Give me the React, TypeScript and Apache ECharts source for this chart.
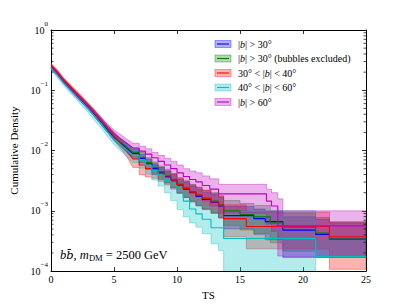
import React, { useEffect, useRef } from 'react';
import * as echarts from 'echarts';

const X_MIN = 0;
const X_MAX = 25;
const X_STEP = 5;
const Y_MIN = 1e-4;
const Y_MAX = 1;
// below this TS the steps are too fine to see: nodes are joined directly
const FINE_STEP_LIMIT = 6.5;
const Y_MINOR_TICKS = [
  2e-4, 3e-4, 4e-4, 5e-4, 6e-4, 7e-4, 8e-4, 9e-4,
  2e-3, 3e-3, 4e-3, 5e-3, 6e-3, 7e-3, 8e-3, 9e-3,
  2e-2, 3e-2, 4e-2, 5e-2, 6e-2, 7e-2, 8e-2, 9e-2,
  2e-1, 3e-1, 4e-1, 5e-1, 6e-1, 7e-1, 8e-1, 9e-1,
];

// |b| > 30°
const TS_B30 = [0, 0.5, 1, 1.5, 2, 2.5, 3, 3.5, 4, 4.5, 5, 5.5, 6, 6.5, 7, 7.5, 8, 8.5, 9, 9.5, 10, 10.5, 11, 11.5, 12, 12.7, 13.3, 13.7, 16.1, 17.0, 18.4, 21.0, 22.1, 25];
const MID_B30 = [0.245, 0.191, 0.141, 0.110, 0.0851, 0.0661, 0.0513, 0.0389, 0.0295, 0.0219, 0.0166, 0.0135, 0.0110, 0.00891, 0.00741, 0.00603, 0.00501, 0.00427, 0.00372, 0.00316, 0.00263, 0.00229, 0.00200, 0.00174, 0.00155, 0.00138, 0.00120, 0.000832, 0.000741, 0.000661, 0.000479, 0.000407, 0.000339, 0.000339];
const HI_B30 = [0.263, 0.204, 0.151, 0.118, 0.0912, 0.0724, 0.0562, 0.0427, 0.0331, 0.0245, 0.0186, 0.0155, 0.0126, 0.0105, 0.00871, 0.00724, 0.00603, 0.00525, 0.00457, 0.00398, 0.00331, 0.00295, 0.00257, 0.00229, 0.00204, 0.00186, 0.00166, 0.00118, 0.00107, 0.000977, 0.000794, 0.000724, 0.000631, 0.000631];
const LO_B30 = [0.229, 0.178, 0.132, 0.102, 0.0794, 0.0603, 0.0468, 0.0355, 0.0263, 0.0195, 0.0145, 0.0118, 0.00933, 0.00741, 0.00617, 0.00490, 0.00398, 0.00331, 0.00288, 0.00240, 0.00195, 0.00166, 0.00141, 0.00120, 0.00105, 0.000912, 0.000759, 0.000501, 0.000407, 0.000331, 0.000170, 0.000170, 0.000170, 0.000170];

// |b| > 30° (bubbles excluded)
const TS_NB = [0, 0.5, 1, 1.5, 2, 2.5, 3, 3.5, 4, 4.5, 5, 5.5, 6, 6.5, 7, 7.5, 8, 8.5, 9, 9.5, 10, 10.5, 11, 11.5, 12, 12.7, 13.3, 13.7, 15.0, 16.1, 17.4, 18.4, 21.0, 22.1, 25];
const MID_NB = [0.251, 0.195, 0.145, 0.112, 0.0871, 0.0676, 0.0525, 0.0398, 0.0302, 0.0229, 0.0174, 0.0141, 0.0115, 0.00933, 0.00776, 0.00631, 0.00525, 0.00447, 0.00389, 0.00331, 0.00275, 0.00240, 0.00209, 0.00182, 0.00162, 0.00145, 0.00126, 0.00100, 0.000871, 0.000794, 0.000631, 0.000537, 0.000427, 0.000339, 0.000339];
const HI_NB = [0.269, 0.209, 0.155, 0.120, 0.0955, 0.0741, 0.0575, 0.0447, 0.0339, 0.0257, 0.0200, 0.0162, 0.0135, 0.0110, 0.00933, 0.00759, 0.00646, 0.00550, 0.00490, 0.00417, 0.00355, 0.00316, 0.00275, 0.00246, 0.00219, 0.00200, 0.00178, 0.00148, 0.00132, 0.00123, 0.00100, 0.000912, 0.000776, 0.000646, 0.000646];
const LO_NB = [0.234, 0.182, 0.135, 0.105, 0.0794, 0.0617, 0.0479, 0.0355, 0.0269, 0.0200, 0.0151, 0.0120, 0.00955, 0.00776, 0.00631, 0.00501, 0.00407, 0.00347, 0.00295, 0.00246, 0.00200, 0.00170, 0.00145, 0.00123, 0.00107, 0.000933, 0.000776, 0.000575, 0.000479, 0.000417, 0.000295, 0.000214, 0.000170, 0.000170, 0.000170];

// 30° < |b| < 40°
const TS_R = [0, 0.5, 1, 1.5, 2, 2.5, 3, 3.5, 4, 4.5, 5, 5.5, 6, 6.5, 7, 7.5, 8, 8.5, 9, 9.5, 10, 10.5, 11, 11.5, 12, 12.7, 13.3, 13.7, 15.5, 22.1, 25];
const MID_R = [0.263, 0.204, 0.151, 0.118, 0.0912, 0.0708, 0.0550, 0.0417, 0.0316, 0.0234, 0.0174, 0.0132, 0.0100, 0.00724, 0.00575, 0.00501, 0.00468, 0.00417, 0.00363, 0.00316, 0.00269, 0.00234, 0.00204, 0.00182, 0.00162, 0.00141, 0.00123, 0.000741, 0.000550, 0.000372, 0.000372];
const HI_R = [0.282, 0.219, 0.162, 0.126, 0.100, 0.0776, 0.0603, 0.0468, 0.0355, 0.0263, 0.0200, 0.0151, 0.0118, 0.00871, 0.00692, 0.00617, 0.00575, 0.00525, 0.00457, 0.00407, 0.00347, 0.00309, 0.00269, 0.00246, 0.00219, 0.00195, 0.00174, 0.00126, 0.000955, 0.000661, 0.000661];
const LO_R = [0.245, 0.191, 0.141, 0.110, 0.0832, 0.0646, 0.0501, 0.0372, 0.0282, 0.0204, 0.0148, 0.0110, 0.00794, 0.00525, 0.00398, 0.00363, 0.00347, 0.00309, 0.00269, 0.00229, 0.00195, 0.00166, 0.00141, 0.00123, 0.00107, 0.000912, 0.000759, 0.000372, 0.000234, 0.000107, 0.000107];

// 40° < |b| < 60°
const TS_C = [0, 0.5, 1, 1.5, 2, 2.5, 3, 3.5, 4, 4.5, 5, 5.5, 6, 6.5, 7, 7.5, 8, 8.5, 9, 9.5, 10, 10.5, 11, 11.5, 12, 12.7, 13.3, 13.7, 21.0, 25];
const MID_C = [0.234, 0.178, 0.132, 0.102, 0.0794, 0.0617, 0.0479, 0.0363, 0.0275, 0.0204, 0.0155, 0.0126, 0.0102, 0.00832, 0.00692, 0.00562, 0.00468, 0.00389, 0.00316, 0.00263, 0.00209, 0.00145, 0.00107, 0.000891, 0.000724, 0.000525, 0.000525, 0.000347, 0.000174, 0.000174];
const HI_C = [0.251, 0.195, 0.145, 0.112, 0.0871, 0.0692, 0.0537, 0.0407, 0.0316, 0.0234, 0.0182, 0.0148, 0.0123, 0.0102, 0.00851, 0.00708, 0.00603, 0.00513, 0.00427, 0.00363, 0.00295, 0.00214, 0.00166, 0.00145, 0.00123, 0.00105, 0.00105, 0.00100, 0.000331, 0.000331];
const LO_C = [0.214, 0.162, 0.120, 0.0912, 0.0708, 0.0537, 0.0417, 0.0309, 0.0234, 0.0170, 0.0126, 0.0100, 0.00794, 0.00631, 0.00513, 0.00407, 0.00324, 0.00257, 0.00200, 0.00148, 0.00105, 0.000794, 0.000631, 0.000537, 0.000417, 0.000282, 0.000219, 0.00001, 0.000170, 0.000170];

// |b| > 60°
const TS_M = [0, 0.5, 1, 1.5, 2, 2.5, 3, 3.5, 4, 4.5, 5, 5.5, 6, 6.5, 7, 7.5, 8, 8.5, 9, 9.5, 10, 10.5, 11, 11.5, 12, 12.6, 13.3, 17.1, 17.5, 18.0, 18.4, 25];
const MID_M = [0.245, 0.191, 0.141, 0.110, 0.0851, 0.0676, 0.0525, 0.0407, 0.0309, 0.0240, 0.0191, 0.0158, 0.0132, 0.0110, 0.00977, 0.00871, 0.00759, 0.00661, 0.00575, 0.00501, 0.00427, 0.00372, 0.00331, 0.00302, 0.00263, 0.00229, 0.00191, 0.00145, 0.00120, 0.000562, 0.000562, 0.000562];
const HI_M = [0.269, 0.209, 0.155, 0.120, 0.0933, 0.0759, 0.0589, 0.0457, 0.0347, 0.0275, 0.0219, 0.0186, 0.0155, 0.0132, 0.0118, 0.0107, 0.00933, 0.00832, 0.00741, 0.00661, 0.00575, 0.00501, 0.00457, 0.00427, 0.00380, 0.00339, 0.00275, 0.00229, 0.00200, 0.00158, 0.00100, 0.00100];
const LO_M = [0.224, 0.174, 0.129, 0.100, 0.0759, 0.0603, 0.0468, 0.0355, 0.0269, 0.0204, 0.0162, 0.0132, 0.0107, 0.00871, 0.00759, 0.00661, 0.00562, 0.00479, 0.00407, 0.00339, 0.00282, 0.00234, 0.00200, 0.00174, 0.00145, 0.00120, 0.000912, 0.000603, 0.000457, 0.000178, 0.000170, 0.000178];

const SERIES_NAMES = ['|b| > 30°', '|b| > 30° (bubbles excluded)', '30° < |b| < 40°', '40° < |b| < 60°', '|b| > 60°'];
const LEGEND_RICH = [
  '{r||}{i|b}{r|| > 30°}',
  '{r||}{i|b}{r|| > 30° (bubbles excluded)}',
  '{r|30° < |}{i|b}{r|| < 40°}',
  '{r|40° < |}{i|b}{r|| < 60°}',
  '{r||}{i|b}{r|| > 60°}',
];
const COLORS = ['#0000ff', '#008000', '#ff0000', '#00bfbf', '#bf00bf'];
const ANNOTATION = '{i|b}{bb|b\u0304}{r|, }{i|m}{s|DM}{r| = 2500 GeV}';

const SERIF = "'Liberation Serif', 'DejaVu Serif', serif";

function rgba(hex: string, a: number) {
  const r = parseInt(hex.slice(1, 3), 16);
  const g = parseInt(hex.slice(3, 5), 16);
  const b = parseInt(hex.slice(5, 7), 16);
  return `rgba(${r},${g},${b},${a})`;
}

export default function App() {
  const ref = useRef<HTMLDivElement>(null);
  useEffect(() => {
    if (!ref.current) return;
    const chart = echarts.init(ref.current, null, { renderer: 'svg' });
    const groups = [
      { ts: TS_B30, mid: MID_B30, lo: LO_B30, hi: HI_B30 },
      { ts: TS_NB, mid: MID_NB, lo: LO_NB, hi: HI_NB },
      { ts: TS_R, mid: MID_R, lo: LO_R, hi: HI_R },
      { ts: TS_C, mid: MID_C, lo: LO_C, hi: HI_C },
      { ts: TS_M, mid: MID_M, lo: LO_M, hi: HI_M },
    ];
    const series: any[] = [];
    groups.forEach((g, k) => {
      const color = COLORS[k];
      series.push({
        type: 'custom',
        name: SERIES_NAMES[k] + ' band',
        xAxisIndex: 0,
        yAxisIndex: 0,
        clip: true,
        silent: true,
        data: [[g.ts[0], g.mid[0]]],
        renderItem: (params: any, api: any) => {
          const n = g.ts.length;
          const pts: number[][] = [];
          for (let i = 0; i < n; i++) {
            const x1 = i < n - 1 ? g.ts[i + 1] : g.ts[i];
            pts.push(api.coord([g.ts[i], g.hi[i]]));
            if (x1 > FINE_STEP_LIMIT) pts.push(api.coord([x1, g.hi[i]]));
          }
          for (let i = n - 1; i >= 0; i--) {
            const x1 = i < n - 1 ? g.ts[i + 1] : g.ts[i];
            if (x1 > FINE_STEP_LIMIT) pts.push(api.coord([x1, g.lo[i]]));
            pts.push(api.coord([g.ts[i], g.lo[i]]));
          }
          return {
            type: 'polygon',
            shape: { points: pts },
            style: { fill: rgba(color, 0.3), stroke: rgba(color, 0.45), lineWidth: 0.8 },
          };
        },
      });
      const pts = g.ts.map((x, i) => [x, g.mid[i]]);
      series.push({
        type: 'line',
        name: SERIES_NAMES[k],
        xAxisIndex: 0,
        yAxisIndex: 0,
        data: pts.filter((p) => p[0] <= FINE_STEP_LIMIT),
        showSymbol: false,
        symbol: 'none',
        clip: true,
        silent: true,
        lineStyle: { color, width: 1.1 },
        itemStyle: { color },
      });
      series.push({
        type: 'line',
        name: SERIES_NAMES[k] + ' steps',
        xAxisIndex: 0,
        yAxisIndex: 0,
        step: 'end',
        data: pts.filter((p) => p[0] >= FINE_STEP_LIMIT),
        showSymbol: false,
        symbol: 'none',
        clip: true,
        silent: true,
        lineStyle: { color, width: 1.1 },
        itemStyle: { color },
      });
    });
    series.push({
      type: 'custom',
      name: 'minor ticks',
      xAxisIndex: 0,
      yAxisIndex: 0,
      silent: true,
      clip: false,
      z: 5,
      data: Y_MINOR_TICKS.map((v) => [X_MIN, v]),
      renderItem: (params: any, api: any) => {
        const v = api.value(1);
        const pl = api.coord([X_MIN, v]);
        const pr = api.coord([X_MAX, v]);
        const st = { stroke: '#000', lineWidth: 0.7 };
        return {
          type: 'group',
          children: [
            { type: 'line', shape: { x1: pl[0], y1: pl[1], x2: pl[0] + 2.5, y2: pl[1] }, style: st },
            { type: 'line', shape: { x1: pr[0], y1: pr[1], x2: pr[0] - 2.5, y2: pr[1] }, style: st },
          ],
        };
      },
    });

    const axisLine = { show: true, onZero: false, lineStyle: { color: '#000', width: 1 } };
    const axisTick = { show: true, inside: true, length: 4, lineStyle: { color: '#000', width: 0.8 } };
    const supRich = {
      b: { fontFamily: SERIF, fontSize: 10, color: '#000', lineHeight: 20, verticalAlign: 'middle' },
      s: { fontFamily: SERIF, fontSize: 7, color: '#000', lineHeight: 8, verticalAlign: 'top' },
    };
    const legendGraphics: any[] = [];
    const legendRich = {
      r: { fontFamily: SERIF, fontSize: 10, fill: '#000' },
      i: { fontFamily: SERIF, fontSize: 10, fontStyle: 'italic', fill: '#000' },
    };
    SERIES_NAMES.forEach((n, k) => {
      const yc = 44 + k * 14.5;
      const color = COLORS[k];
      legendGraphics.push({
        type: 'rect',
        shape: { x: 215, y: yc - 3.5, width: 16, height: 7 },
        style: { fill: rgba(color, 0.3), stroke: rgba(color, 0.45), lineWidth: 0.8 },
      });
      legendGraphics.push({
        type: 'line',
        shape: { x1: 217, y1: yc, x2: 229, y2: yc },
        style: { stroke: color, lineWidth: 1.1 },
      });
      legendGraphics.push({
        type: 'text',
        x: 238,
        y: yc,
        style: { text: LEGEND_RICH[k], rich: legendRich, verticalAlign: 'middle', align: 'left', fill: '#000', fontFamily: SERIF, fontSize: 10 },
      });
    });
    legendGraphics.push({
      type: 'text',
      x: 60,
      y: 255,
      style: {
        text: ANNOTATION,
        verticalAlign: 'middle',
        align: 'left',
        fill: '#000',
        fontFamily: SERIF,
        fontSize: 12.5,
        rich: {
          r: { fontFamily: SERIF, fontSize: 12.5, fill: '#000', lineHeight: 15, verticalAlign: 'middle' },
          i: { fontFamily: SERIF, fontSize: 12.5, fontStyle: 'italic', fill: '#000', lineHeight: 15, verticalAlign: 'middle' },
          bb: { fontFamily: "'DejaVu Serif', serif", fontSize: 11.5, fontStyle: 'italic', fill: '#000', lineHeight: 15, verticalAlign: 'middle' },
          s: { fontFamily: SERIF, fontSize: 8.5, fill: '#000', lineHeight: 8, verticalAlign: 'bottom' },
        },
      },
    });

    const option: any = {
      animation: false,
      backgroundColor: '#ffffff',
      grid: { left: 51, right: 41, top: 30, bottom: 31, containLabel: false },
      xAxis: [
        {
          type: 'value', position: 'bottom', min: X_MIN, max: X_MAX, interval: X_STEP,
          axisLine, axisTick, splitLine: { show: false },
          axisLabel: { color: '#000', fontFamily: SERIF, fontSize: 10, margin: 3 },
          name: 'TS', nameLocation: 'middle', nameGap: 7,
          nameTextStyle: { color: '#000', fontFamily: SERIF, fontSize: 11 },
        },
        {
          type: 'value', position: 'top', min: X_MIN, max: X_MAX, interval: X_STEP,
          axisLine, axisTick, splitLine: { show: false }, axisLabel: { show: false },
        },
      ],
      yAxis: [
        {
          type: 'log', logBase: 10, position: 'left', min: Y_MIN, max: Y_MAX,
          axisLine, axisTick, splitLine: { show: false }, minorTick: { show: false },
          axisLabel: {
            margin: 3,
            formatter: (v: number) => {
              const e = Math.round(Math.log10(v));
              return '{b|10}{s|' + (e < 0 ? '\u2212' + -e : String(e)) + '}';
            },
            rich: supRich,
          },
          name: 'Cumulative Density', nameLocation: 'middle', nameGap: 20, nameRotate: 90,
          nameTextStyle: { color: '#000', fontFamily: SERIF, fontSize: 11 },
        },
        {
          type: 'log', logBase: 10, position: 'right', min: Y_MIN, max: Y_MAX,
          axisLine, axisTick, splitLine: { show: false }, axisLabel: { show: false },
        },
      ],
      graphic: legendGraphics,
      series,
    };
    chart.setOption(option);
    return () => chart.dispose();
  }, []);
  return <div ref={ref} style={{ position: 'fixed', left: 0, top: 0, width: 407, height: 305, background: '#fff' }} />;
}
